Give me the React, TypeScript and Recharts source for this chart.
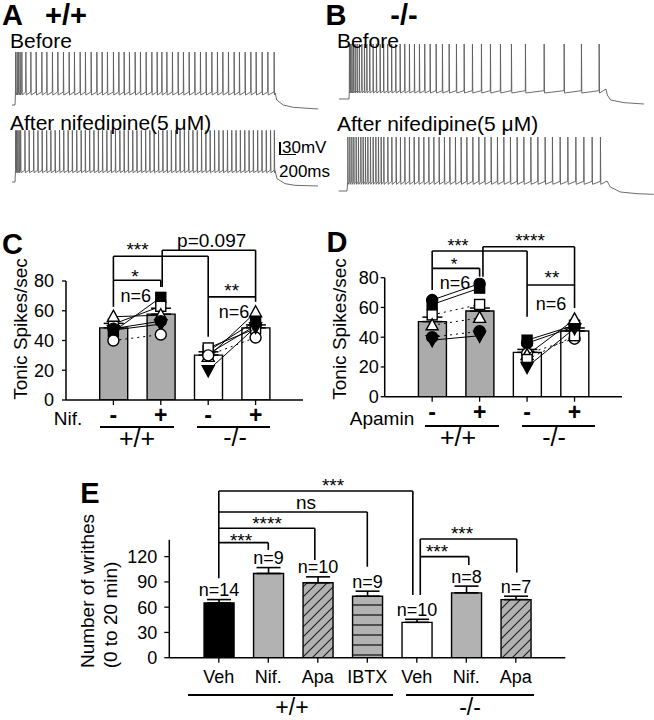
import React from 'react';
import {
  LineChart,
  Line,
  XAxis,
  YAxis,
  ComposedChart,
  Bar,
  Cell,
  Scatter,
  ErrorBar,
  ReferenceLine,
  LabelList
} from 'recharts';

const FONT = 'Arial, "Liberation Sans", Helvetica, sans-serif';
const GRAY = '#ababab';

// ---------- A / B : spike times (ms after current onset)
const spikesWtBefore = [
  5, 20, 35, 50, 67, 107, 157, 210, 267, 317, 373, 427, 483, 540, 593, 650, 703, 760, 817, 870,
  923, 983, 1037, 1090, 1143, 1200, 1253, 1310, 1367, 1420, 1467, 1517, 1573, 1630, 1683, 1740,
  1797, 1853, 1910, 1967, 2023, 2077, 2133, 2190, 2243, 2300, 2357, 2410, 2470, 2527, 2590
];
const spikesWtAfter = [
  5, 15, 27, 40, 55, 98, 140, 185, 228, 270, 315, 357, 400, 444, 486, 530, 572, 616, 660, 702,
  745, 788, 832, 874, 917, 960, 1003, 1047, 1090, 1132, 1176, 1218, 1262, 1305, 1347, 1390, 1434,
  1477, 1520, 1562, 1606, 1649, 1692, 1735, 1778, 1821, 1864, 1907, 1950, 1994, 2037, 2080, 2123,
  2166, 2209, 2252, 2296, 2339, 2382, 2425, 2468, 2511, 2554, 2592
];
const spikesKoBefore = [
  3, 15, 28, 43, 60, 80, 102, 127, 153, 177, 206, 240, 273, 310, 345, 385, 425, 466, 510, 556,
  603, 653, 703, 756, 810, 870, 933, 1000, 1073, 1150, 1233, 1323, 1413, 1513, 1623, 1763, 1950,
  2150, 2323, 2500
];
const spikesKoAfter = [
  7, 27, 47, 67, 90, 113, 137, 160, 183, 207, 233, 260, 287, 313, 340, 367, 407, 447, 490, 533,
  577, 623, 670, 717, 767, 817, 867, 920, 973, 1027, 1083, 1140, 1197, 1257, 1317, 1377, 1440,
  1503, 1567, 1633, 1700, 1767, 1837, 1907, 1980, 2053, 2130, 2207, 2287, 2367, 2450, 2533
];

// membrane levels (mV) and the decay after the step
const levelsWtBefore = { rest: -70, thr: -31, ahp: -40, peak: 89 };
const levelsWtAfter = { rest: -70, thr: -35, ahp: -42, peak: 85 };
const levelsKoBefore = { rest: -70, thr: -45, ahp: -52, peak: 95 };
const levelsKoAfter = { rest: -70, thr: -41, ahp: -50, peak: 92 };

const tailWtBefore = [[2603, -34], [2617, -55], [2683, -70], [2783, -77], [3033, -82]];
const tailWtAfter = [[2600, -36], [2620, -60], [2700, -75], [2800, -80], [3030, -82]];
const tailKoBefore = [[2570, -40], [2583, -58], [2616, -73], [2750, -81], [2950, -85]];
const tailKoAfter = [[2600, -40], [2633, -58], [2733, -73], [2900, -78], [3067, -80]];

function buildTrace(spikes, lv, start, tail) {
  const pts = [{ t: start, v: lv.rest }, { t: 0, v: lv.rest }];
  spikes.forEach((s) => {
    pts.push({ t: s, v: lv.thr }, { t: s + 1.5, v: lv.peak }, { t: s + 5, v: lv.ahp });
  });
  tail.forEach(([t, v]) => pts.push({ t, v }));
  return pts;
}

// ---------- C : Nifedipine
const cPos = [1, 2, 3, 4];
const cTickLabels = ['-', '+', '-', '+'];
const cMeans = [48.5, 57.7, 30.2, 48.5];
const cErr = [3, 4, 2.2, 2];
const cFills = [GRAY, GRAY, '#fff', '#fff'];
const cWtBefore = [46, 51, 56, 48, 47, 40];
const cWtAfter = [69, 63, 57, 53, 51, 44];
const cKoBefore = [29, 33, 31, 35, 30, 20];
const cKoAfter = [59, 53, 50, 48, 42, 49];
const cWtMarks = ['squareFill', 'squareOpen', 'triOpen', 'circleFill', 'triDownFill', 'circleOpen'];
const cKoMarks = ['triOpen', 'squareFill', 'circleFill', 'squareOpen', 'circleOpen', 'triDownFill'];
const cWtDotted = [false, false, false, false, false, true];
const cKoDotted = [false, false, false, false, true, false];

// ---------- D : Apamin
const dMeans = [50.5, 57.6, 29.8, 44.2];
const dErr = [3, 2, 2, 2];
const dFills = [GRAY, GRAY, '#fff', '#fff'];
const dWtBefore = [65, 62, 55, 48, 40, 38];
const dWtAfter = [76, 73, 62, 53, 44, 41];
const dKoBefore = [38, 36, 29, 28, 25, 20];
const dKoAfter = [48, 47, 39, 52, 41, 46];
const dWtMarks = ['circleFill', 'squareFill', 'squareOpen', 'triOpen', 'circleFill', 'triDownFill'];
const dKoMarks = ['squareFill', 'circleFill', 'circleOpen', 'triOpen', 'squareOpen', 'triDownFill'];
const dWtDotted = [false, false, true, true, true, false];
const dKoDotted = [false, false, true, false, true, false];

// ---------- E : writhes
const eNames = ['Veh', 'Nif.', 'Apa', 'IBTX', 'Veh', 'Nif.', 'Apa'];
const eMeans = [65, 100, 89, 73, 42, 77, 69];
const eErr = [4, 7, 7, 6, 3.6, 8, 4];
const eN = [14, 9, 10, 9, 10, 8, 7];
const eFills = ['#000', '#b2b2b2', 'url(#hatchDiag)', 'url(#hatchHoriz)', '#fff', '#b2b2b2', 'url(#hatchDiag)'];

// significance brackets, as polylines in data units [x, y]
const cBrackets = [
  [[1, 62.6], [1, 96.6], [3, 96.6], [3, 42.5]],
  [[1, 80.5], [2, 80.5], [2, 76]],
  [[2.03, 76], [2.03, 100.7], [4, 100.7], [4, 66]],
  [[3, 69.3], [4, 69.3]]
];
const dBrackets = [
  [[1, 71.7], [1, 98], [3, 98], [3, 53.8]],
  [[1, 86.3], [2, 86.3], [2, 80.7]],
  [[2.07, 80.7], [2.07, 100.8], [4, 100.8], [4, 59.6]],
  [[3, 75.1], [4, 75.1]]
];
const eBrackets = [
  [[1, 94.3], [1, 198], [4.92, 198], [4.92, 74.5]],
  [[1, 173], [4, 173], [4, 108]],
  [[1, 153.7], [2.94, 153.7], [2.94, 116]],
  [[1, 136.6], [2, 136.6], [2, 128]],
  [[5.07, 74.5], [5.07, 141], [7.02, 141], [7.02, 101]],
  [[5.07, 120], [6.05, 120], [6.05, 110]]
];

function bracketLines(list, prefix) {
  const out = [];
  list.forEach((pl, i) => {
    for (let j = 1; j < pl.length; j++) {
      out.push(
        <ReferenceLine
          key={`${prefix}-${i}-${j}`}
          segment={[
            { x: pl[j - 1][0], y: pl[j - 1][1] },
            { x: pl[j][0], y: pl[j][1] }
          ]}
          stroke='#000'
          strokeWidth={1.6}
          ifOverflow='visible'
        />
      );
    }
  });
  return out;
}

function markerShape(kind) {
  return (props) => {
    const { cx, cy } = props;
    const fill = kind.endsWith('Fill') ? '#000' : '#fff';
    const common = { fill, stroke: '#000', strokeWidth: 1.4 };
    if (kind.startsWith('circle')) return <circle cx={cx} cy={cy} r={5.5} {...common} />;
    if (kind.startsWith('square')) return <rect x={cx - 5} y={cy - 5} width={10} height={10} {...common} />;
    if (kind.startsWith('triDown'))
      return <polygon points={`${cx - 6},${cy - 4.5} ${cx + 6},${cy - 4.5} ${cx},${cy + 6.5}`} {...common} />;
    return <polygon points={`${cx},${cy - 6.5} ${cx + 6},${cy + 4.5} ${cx - 6},${cy + 4.5}`} {...common} />;
  };
}

function subjectSeries(before, after, marks, dotted, xs, prefix) {
  return before.map((b, i) => (
    <Scatter
      key={`${prefix}${i}`}
      data={[
        { x: xs[0], y: b },
        { x: xs[1], y: after[i] }
      ]}
      line={{ stroke: '#000', strokeWidth: 1, strokeDasharray: dotted[i] ? '2 4' : undefined }}
      shape={markerShape(marks[i])}
      isAnimationActive={false}
    />
  ));
}

function Txt({ x, y, children, size = 19, anchor = 'middle', bold = false, lh = 1 }) {
  const tx = anchor === 'middle' ? '-50%' : anchor === 'end' ? '-100%' : '0';
  return (
    <div
      style={{
        position: 'absolute',
        left: x,
        top: y,
        transform: `translate(${tx},-50%)`,
        fontSize: size,
        lineHeight: lh,
        fontFamily: FONT,
        fontWeight: bold ? 'bold' : 'normal',
        whiteSpace: 'nowrap',
        color: '#000'
      }}>
      {children}
    </div>
  );
}

// asterisks: y is the centre of the glyph itself
function Stars({ x, y, children, size = 19 }) {
  return (
    <Txt x={x} y={y + 3} size={size} lh={0.5}>
      {children}
    </Txt>
  );
}

function VTxt({ x, y, children, size = 19 }) {
  return (
    <div
      style={{
        position: 'absolute',
        left: x,
        top: y,
        transform: 'translate(-50%,-50%) rotate(-90deg)',
        fontSize: size,
        lineHeight: 1,
        fontFamily: FONT,
        whiteSpace: 'nowrap'
      }}>
      {children}
    </div>
  );
}

function HLine({ x1, x2, y, w = 2 }) {
  return <div style={{ position: 'absolute', left: x1, top: y - w / 2, width: x2 - x1, height: w, background: '#000' }} />;
}

function Trace({ data, left, top }) {
  return (
    <div style={{ position: 'absolute', left, top }}>
      <LineChart width={320} height={70} data={data} margin={{ top: 0, right: 0, bottom: 0, left: 0 }}>
        <XAxis type='number' dataKey='t' domain={[-100, 3100]} allowDataOverflow hide />
        <YAxis type='number' domain={[-100, 110]} allowDataOverflow hide />
        <Line type='linear' dataKey='v' dot={false} stroke='#5c5c5c' strokeWidth={0.9} isAnimationActive={false} />
      </LineChart>
    </div>
  );
}

const axisStyle = { stroke: '#000', strokeWidth: 1.5 };
const tickFont = { fill: '#000', fontSize: 18, fontFamily: FONT };

function SpikePanel({ left, top, yWidth, margin, means, errs, fills, brackets, prefix, series }) {
  const data = means.map((m, i) => ({ x: cPos[i], mean: m, err: [0, errs[i]] }));
  return (
    <div style={{ position: 'absolute', left, top }}>
      <ComposedChart width={320} height={240} data={data} margin={margin}>
        <XAxis
          type='number'
          dataKey='x'
          domain={[0, 5]}
          ticks={cPos}
          interval={0}
          tickFormatter={(v) => cTickLabels[v - 1]}
          axisLine={axisStyle}
          tickLine={{ stroke: '#000', strokeWidth: 1.3 }}
          tick={{ fill: '#000', fontSize: 23, fontWeight: 'bold', fontFamily: FONT }}
          tickSize={5}
          tickMargin={2}
          allowDataOverflow
        />
        <YAxis
          type='number'
          dataKey='y'
          domain={[0, 80]}
          ticks={[0, 20, 40, 60, 80]}
          interval={0}
          width={yWidth}
          axisLine={axisStyle}
          tickLine={{ stroke: '#000', strokeWidth: 1.3 }}
          tick={tickFont}
          tickSize={4}
          tickMargin={prefix === 'c' ? 8 : 2}
          allowDataOverflow
        />
        <Bar dataKey='mean' barSize={28} stroke='#000' strokeWidth={1.4} isAnimationActive={false}>
          {data.map((d, i) => (
            <Cell key={i} fill={fills[i]} />
          ))}
          <ErrorBar dataKey='err' width={10} stroke='#000' strokeWidth={1.5} direction='y' />
        </Bar>
        {series}
        {bracketLines(brackets, prefix)}
      </ComposedChart>
    </div>
  );
}

function WrithePanel() {
  const data = eMeans.map((m, i) => ({ x: i + 1, mean: m, err: [0, eErr[i]], n: eN[i] }));
  const nLabel = (p) => {
    const vb = p.viewBox || p;
    const x = vb.x ?? p.x;
    const y = vb.y ?? p.y;
    const w = vb.width ?? p.width;
    const h = Math.abs(vb.height ?? p.height);
    const i = p.index;
    const capY = y - (eErr[i] * h) / eMeans[i];
    return (
      <text x={x + w / 2} y={capY - 3.5} textAnchor='middle' fontSize={18} fontFamily={FONT} fill='#000'>
        {`n=${p.value}`}
      </text>
    );
  };
  return (
    <div style={{ position: 'absolute', left: 60, top: 460 }}>
      <ComposedChart width={530} height={250} data={data} margin={{ top: 79.8, right: 24.7, bottom: 22.3, left: 49.3 }}>
        <XAxis
          type='number'
          dataKey='x'
          domain={[0, 8]}
          ticks={[1, 2, 3, 4, 5, 6, 7]}
          interval={0}
          tickFormatter={(v) => eNames[v - 1]}
          axisLine={axisStyle}
          tickLine={{ stroke: '#000', strokeWidth: 1.3 }}
          tick={tickFont}
          tickSize={5}
          tickMargin={8}
          allowDataOverflow
        />
        <YAxis
          type='number'
          dataKey='y'
          domain={[0, 140]}
          ticks={[0, 30, 60, 90, 120]}
          interval={0}
          width={60}
          axisLine={axisStyle}
          tickLine={{ stroke: '#000', strokeWidth: 1.3 }}
          tick={tickFont}
          tickSize={5}
          tickMargin={7}
          allowDataOverflow
        />
        <Bar dataKey='mean' barSize={30} stroke='#000' strokeWidth={1.4} isAnimationActive={false}>
          {data.map((d, i) => (
            <Cell key={i} fill={eFills[i]} />
          ))}
          <ErrorBar dataKey='err' width={12} stroke='#000' strokeWidth={1.6} direction='y' />
          <LabelList dataKey='n' content={nLabel} />
        </Bar>
        {bracketLines(eBrackets, 'e')}
      </ComposedChart>
    </div>
  );
}

export default function App() {
  return (
    <div
      style={{
        position: 'fixed',
        left: 0,
        top: 0,
        width: 654,
        height: 720,
        background: '#fff',
        overflow: 'hidden',
        fontFamily: FONT
      }}>
      <svg width={0} height={0} style={{ position: 'absolute' }}>
        <defs>
          <pattern id='hatchDiag' patternUnits='userSpaceOnUse' width={10} height={10}>
            <rect width={10} height={10} fill='#b2b2b2' />
            <path d='M0,10 L10,0 M-2.5,2.5 L2.5,-2.5 M7.5,12.5 L12.5,7.5' stroke='#222' strokeWidth={1.2} />
          </pattern>
          <pattern id='hatchHoriz' patternUnits='userSpaceOnUse' width={10} height={10}>
            <rect width={10} height={10} fill='#b2b2b2' />
            <path d='M0,5 L10,5' stroke='#222' strokeWidth={1.4} />
          </pattern>
        </defs>
      </svg>

      {/* A / B recordings */}
      <Trace data={buildTrace(spikesWtBefore, levelsWtBefore, -30, tailWtBefore)} left={5} top={45} />
      <Trace data={buildTrace(spikesWtAfter, levelsWtAfter, -30, tailWtAfter)} left={5} top={121.7} />
      <Trace data={buildTrace(spikesKoBefore, levelsKoBefore, -100, tailKoBefore)} left={338.7} top={39} />
      <Trace data={buildTrace(spikesKoAfter, levelsKoAfter, -83, tailKoAfter)} left={337} top={130.7} />

      <Txt x={12.5} y={15.5} size={29} bold lh={0.8}>A</Txt>
      <Txt x={66} y={15.5} size={29} bold lh={0.8}>+/+</Txt>
      <Txt x={336} y={15.5} size={29} bold lh={0.8}>B</Txt>
      <Txt x={404} y={15.5} size={29} bold lh={0.8}>-/-</Txt>
      <Txt x={10} y={40} size={21} anchor='start'>Before</Txt>
      <Txt x={10} y={122} size={21} anchor='start'>After nifedipine(5 μM)</Txt>
      <Txt x={337} y={40} size={21} anchor='start'>Before</Txt>
      <Txt x={337} y={122.5} size={21} anchor='start'>After nifedipine(5 μM)</Txt>
      <div style={{ position: 'absolute', left: 279, top: 142, width: 1.5, height: 13, background: '#000' }} />
      <HLine x1={279} x2={296} y={154.5} w={1.5} />
      <Txt x={282} y={147} size={17} anchor='start'>30mV</Txt>
      <Txt x={279} y={171} size={17} anchor='start'>200ms</Txt>

      {/* C */}
      <SpikePanel
        left={0}
        top={200}
        yWidth={50}
        margin={{ top: 81, right: 17, bottom: 10, left: 16 }}
        means={cMeans}
        errs={cErr}
        fills={cFills}
        brackets={cBrackets}
        prefix='c'
        series={[
          ...subjectSeries(cWtBefore, cWtAfter, cWtMarks, cWtDotted, [1, 2], 'cw'),
          ...subjectSeries(cKoBefore, cKoAfter, cKoMarks, cKoDotted, [3, 4], 'ck')
        ]}
      />
      <Txt x={12.5} y={245} size={29} bold lh={0.8}>C</Txt>
      <VTxt x={20} y={329}>Tonic Spikes/sec</VTxt>
      <Stars x={137.5} y={246.7}>***</Stars>
      <Stars x={135} y={274}>*</Stars>
      <Txt x={211.7} y={239.5}>p=0.097</Txt>
      <Stars x={231.7} y={288.3}>**</Stars>
      <Txt x={135.8} y={296} size={18} lh={0.8}>n=6</Txt>
      <Txt x={234} y={311.7} size={18} lh={0.8}>n=6</Txt>
      <Txt x={68} y={417.5}>Nif.</Txt>
      <HLine x1={100} x2={174} y={426.7} />
      <HLine x1={197} x2={270} y={426.7} />
      <Txt x={137} y={438.5} size={25} lh={0.7}>+/+</Txt>
      <Txt x={235} y={438} size={25} lh={0.7}>-/-</Txt>

      {/* D */}
      <SpikePanel
        left={327}
        top={200}
        yWidth={40}
        margin={{ top: 77.7, right: 25, bottom: 13.3, left: 17.7 }}
        means={dMeans}
        errs={dErr}
        fills={dFills}
        brackets={dBrackets}
        prefix='d'
        series={[
          ...subjectSeries(dWtBefore, dWtAfter, dWtMarks, dWtDotted, [1, 2], 'dw'),
          ...subjectSeries(dKoBefore, dKoAfter, dKoMarks, dKoDotted, [3, 4], 'dk')
        ]}
      />
      <Txt x={337} y={243} size={29} bold lh={0.8}>D</Txt>
      <VTxt x={339} y={329}>Tonic Spikes/sec</VTxt>
      <Stars x={454} y={262} size={17}>*</Stars>
      <Stars x={458} y={243} size={18}>***</Stars>
      <Stars x={530} y={237.5}>****</Stars>
      <Stars x={552} y={275}>**</Stars>
      <Txt x={455} y={283} size={18} lh={0.8}>n=6</Txt>
      <Txt x={551} y={304} size={18} lh={0.8}>n=6</Txt>
      <Txt x={382} y={418}>Apamin</Txt>
      <HLine x1={425} x2={499} y={425.7} />
      <HLine x1={522} x2={595} y={425.7} />
      <Txt x={458} y={437.5} size={25} lh={0.7}>+/+</Txt>
      <Txt x={554} y={437.5} size={25} lh={0.7}>-/-</Txt>

      {/* E */}
      <WrithePanel />
      <Txt x={90} y={494} size={29} bold lh={0.8}>E</Txt>
      <VTxt x={86.7} y={590.8}>Number of writhes</VTxt>
      <VTxt x={110} y={614.5}>(0 to 20 min)</VTxt>
      <Stars x={333} y={483}>***</Stars>
      <Txt x={306} y={501.7}>ns</Txt>
      <Stars x={267} y={521}>****</Stars>
      <Stars x={241} y={538.3}>***</Stars>
      <Stars x={462} y={530.7}>***</Stars>
      <Stars x={437} y={549.3}>***</Stars>
      <HLine x1={188} x2={393} y={695} />
      <HLine x1={406} x2={534} y={695} />
      <Txt x={292} y={707} size={23} lh={0.7}>+/+</Txt>
      <Txt x={470} y={706.5} size={23} lh={0.7}>-/-</Txt>
    </div>
  );
}
